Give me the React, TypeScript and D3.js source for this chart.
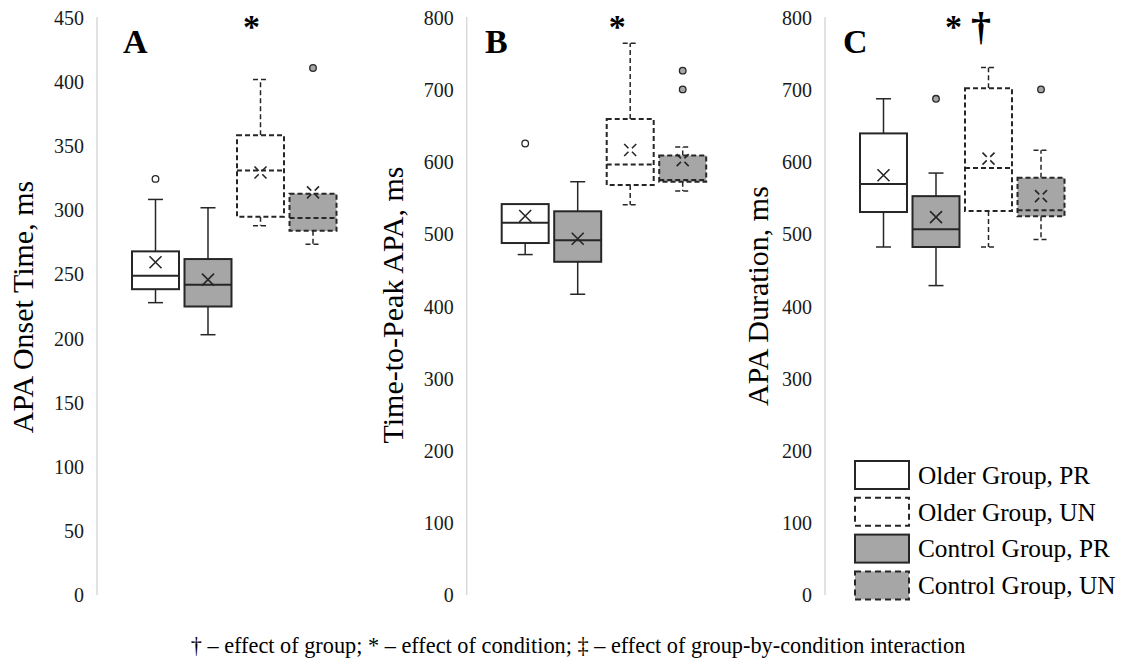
import React from "react";
import * as d3 from "d3";

// ---- Data ----
const seriesOrder = ["Older Group, PR", "Control Group, PR", "Older Group, UN", "Control Group, UN"];
const legendOrder = ["Older Group, PR", "Older Group, UN", "Control Group, PR", "Control Group, UN"];

type Box = { series: string; min: number; q1: number; median: number; q3: number; max: number; mean: number; outliers: number[] };

const onsetBoxes: Box[] = [
  { series: "Older Group, PR", min: 228, q1: 238.5, median: 249, q3: 268, max: 308.5, mean: 259.5, outliers: [324.5] },
  { series: "Control Group, PR", min: 203, q1: 225, median: 242, q3: 262, max: 302, mean: 246, outliers: [] },
  { series: "Older Group, UN", min: 288, q1: 295, median: 331, q3: 358.5, max: 402, mean: 329.5, outliers: [] },
  { series: "Control Group, UN", min: 273.5, q1: 284, median: 294, q3: 313, max: 313, mean: 314, outliers: [411] },
];
const peakBoxes: Box[] = [
  { series: "Older Group, PR", min: 472, q1: 488, median: 516, q3: 542, max: 542, mean: 525.5, outliers: [626] },
  { series: "Control Group, PR", min: 417, q1: 462, median: 492, q3: 532, max: 573, mean: 494, outliers: [] },
  { series: "Older Group, UN", min: 541, q1: 568.5, median: 597, q3: 660, max: 765, mean: 617, outliers: [] },
  { series: "Control Group, UN", min: 560, q1: 573, median: 575.5, q3: 609.5, max: 621, mean: 603, outliers: [701, 727] },
];
const durationBoxes: Box[] = [
  { series: "Older Group, PR", min: 482.5, q1: 531, median: 570, q3: 640, max: 688, mean: 582, outliers: [] },
  { series: "Control Group, PR", min: 429, q1: 482.5, median: 507, q3: 553, max: 585, mean: 524, outliers: [688] },
  { series: "Older Group, UN", min: 482.5, q1: 532.5, median: 592, q3: 702.5, max: 731.5, mean: 605, outliers: [] },
  { series: "Control Group, UN", min: 493, q1: 525, median: 533.5, q3: 578.5, max: 616.5, mean: 553, outliers: [701] },
];

const onsetTicks = [0, 50, 100, 150, 200, 250, 300, 350, 400, 450];
const msTicks = [0, 100, 200, 300, 400, 500, 600, 700, 800];

const footerText = "† – effect of group; * – effect of condition; ‡ – effect of group-by-condition interaction";

// ---- Layout ----
const W = 1125, H = 666;
const FONT = "'Liberation Serif', 'Times New Roman', serif";
const Y_TOP = 18, Y_BOT = 595;
const GRAY = "#a6a6a6";
const INK = "#262626";
const DASH = "5,3";

type PanelProps = {
  axisX: number; maxV: number; ticks: number[]; data: Box[]; title: string;
  titleX: number; titleY: number; label: string; labelX: number;
  marks: { text: string; dx: number; size: number; baseline: number }[];
};

function Panel({ axisX, maxV, ticks, data, title, titleX, titleY, label, labelX, marks }: PanelProps) {
  const y = d3.scaleLinear().domain([0, maxV]).range([Y_BOT, Y_TOP]);
  const x = d3.scaleBand<string>().domain(seriesOrder).range([axisX + 35, axisX + 35 + 204.5]).paddingInner(0.105);
  const bw = x.bandwidth();
  const cap = 7.5;
  return (
    <g>
      <line x1={axisX} x2={axisX} y1={y(maxV) - 1} y2={y(0)} stroke="#d9d9d9" strokeWidth={1.5} />
      {ticks.map((t) => (
        <text key={t} x={axisX - 13} y={y(t)} dy="0.35em" textAnchor="end" fontFamily={FONT} fontSize={20} fill="#1a1a1a">{t}</text>
      ))}
      <text transform={`translate(${titleX},${titleY}) rotate(-90)`} textAnchor="middle" fontFamily={FONT} fontSize={30} fill="#000">{title}</text>
      <text x={labelX} y={53} fontFamily={FONT} fontSize={34} fontWeight="bold" fill="#000">{label}</text>
      {marks.map((m, i) => (
        <text key={i} x={axisX + m.dx} y={m.baseline} textAnchor="middle" fontFamily={FONT} fontSize={m.size} fontWeight="bold" fill="#000">{m.text}</text>
      ))}
      {data.map((b) => {
        const x0 = x(b.series)!;
        const cx = x0 + bw / 2;
        const dashed = b.series.endsWith("UN");
        const fill = b.series.startsWith("Control") ? GRAY : "#fff";
        const da = dashed ? DASH : undefined;
        return (
          <g key={b.series}>
            {b.max > b.q3 && <line x1={cx} x2={cx} y1={y(b.q3)} y2={y(b.max)} stroke={INK} strokeWidth={1.5} strokeDasharray={da} />}
            {b.max > b.q3 && <line x1={cx - cap} x2={cx + cap} y1={y(b.max)} y2={y(b.max)} stroke={INK} strokeWidth={1.5} strokeDasharray={da} />}
            {b.min < b.q1 && <line x1={cx} x2={cx} y1={y(b.q1)} y2={y(b.min)} stroke={INK} strokeWidth={1.5} strokeDasharray={da} />}
            {b.min < b.q1 && <line x1={cx - cap} x2={cx + cap} y1={y(b.min)} y2={y(b.min)} stroke={INK} strokeWidth={1.5} strokeDasharray={da} />}
            <rect x={x0} y={y(b.q3)} width={bw} height={y(b.q1) - y(b.q3)} fill={fill} stroke={INK} strokeWidth={2} strokeDasharray={da} />
            <line x1={x0} x2={x0 + bw} y1={y(b.median)} y2={y(b.median)} stroke={INK} strokeWidth={2} strokeDasharray={da} />
            <path d={`M${cx - 6},${y(b.mean) - 6}L${cx + 6},${y(b.mean) + 6}M${cx + 6},${y(b.mean) - 6}L${cx - 6},${y(b.mean) + 6}`} stroke={INK} strokeWidth={1.6} fill="none" strokeDasharray={dashed ? "6,5" : undefined} />
            {b.outliers.map((o) => (
              <circle key={o} cx={cx} cy={y(o)} r={3.3} fill={fill} stroke={INK} strokeWidth={1.3} />
            ))}
          </g>
        );
      })}
    </g>
  );
}

function Legend() {
  const top = 461, step = 36.8;
  return (
    <g>
      {legendOrder.map((s, i) => {
        const dashed = s.endsWith("UN");
        const fill = s.startsWith("Control") ? GRAY : "#fff";
        const yy = top + i * step;
        return (
          <g key={s}>
            <rect x={855} y={yy} width={54} height={28} fill={fill} stroke={INK} strokeWidth={2} strokeDasharray={dashed ? "6,4" : undefined} />
            <text x={918} y={yy + 14} dy="0.35em" fontFamily={FONT} fontSize={25.3} fill="#000">{s}</text>
          </g>
        );
      })}
    </g>
  );
}

export default function App() {
  return (
    <svg width={W} height={H} style={{ position: "absolute", left: 0, top: 0, background: "#fff" }}>
      <rect width={W} height={H} fill="#fff" />
      <Panel axisX={97} maxV={450} ticks={onsetTicks} data={onsetBoxes} title="APA Onset Time, ms" titleX={33} titleY={307}
        label="A" labelX={123} marks={[{ text: "*", dx: 154.5, size: 34, baseline: 38 }]} />
      <Panel axisX={466.7} maxV={800} ticks={msTicks} data={peakBoxes} title="Time-to-Peak APA, ms" titleX={403} titleY={305}
        label="B" labelX={485} marks={[{ text: "*", dx: 150.6, size: 34, baseline: 38 }]} />
      <Panel axisX={825} maxV={800} ticks={msTicks} data={durationBoxes} title="APA Duration, ms" titleX={768} titleY={296}
        label="C" labelX={843} marks={[{ text: "*", dx: 128.5, size: 34, baseline: 38 }, { text: "†", dx: 156, size: 40, baseline: 40 }]} />
      <Legend />
      <text x={578} y={653} textAnchor="middle" fontFamily={FONT} fontSize={22.3} fill="#000">{footerText}</text>
    </svg>
  );
}
